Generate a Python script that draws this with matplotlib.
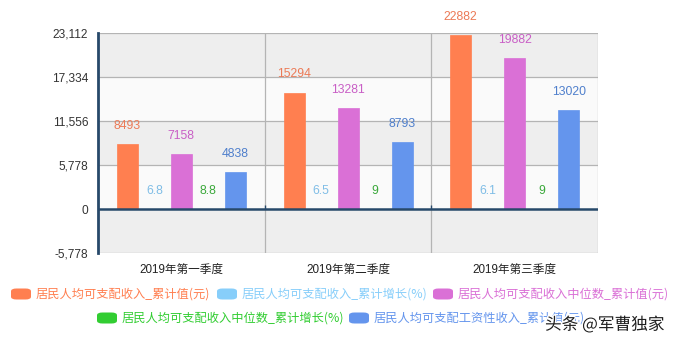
import matplotlib
matplotlib.use("Agg")
import matplotlib.pyplot as plt
import matplotlib.patheffects as pe
from matplotlib.patches import FancyBboxPatch
import numpy as np

plt.rcParams['font.family'] = ['Liberation Sans', 'Noto Sans CJK SC', 'DejaVu Sans']

quarters = ["2019年第一季度", "2019年第二季度", "2019年第三季度"]
series_names = [
    "居民人均可支配收入_累计值(元)",
    "居民人均可支配收入_累计增长(%)",
    "居民人均可支配收入中位数_累计值(元)",
    "居民人均可支配收入中位数_累计增长(%)",
    "居民人均可支配工资性收入_累计值(元)",
]
income_total = [8493, 15294, 22882]
income_growth = [6.8, 6.5, 6.1]
median_total = [7158, 13281, 19882]
median_growth = [8.8, 9, 9]
wage_total = [4838, 8793, 13020]
series_values = [income_total, income_growth, median_total, median_growth, wage_total]
colors = ["#ff7f50", "#87cefa", "#da70d6", "#32cd32", "#6495ed"]
label_colors = ["#ec7a56", "#7fbde6", "#c95fc6", "#3aa83a", "#4f7fcc"]
yticks = [-5778, 0, 5778, 11556, 17334, 23112]

W, H = 679, 343
fig = plt.figure(figsize=(W / 100, H / 100), dpi=100)
ax = fig.add_axes([98 / W, 1 - 253 / H, 500 / W, 220 / H])

ymin, ymax = yticks[0], yticks[-1]
ax.set_xlim(-0.5, len(quarters) - 0.5)
ax.set_ylim(ymin, ymax)

# alternating background bands
band_cols = ["#eeeeee", "#fafafa"]
for i in range(len(yticks) - 1):
    lo, hi = yticks[-2 - i], yticks[-1 - i]
    ax.axhspan(lo, hi, color=band_cols[i % 2], zorder=0, lw=0)

for y in yticks:
    if y != 0:
        ax.axhline(y, color="#b4b4b4", lw=0.9, zorder=1)
for xb in [0.5, 1.5, 2.5]:
    ax.axvline(xb, color="#b4b4b4", lw=0.9, zorder=1)

slot = 0.162
width = 0.126
x = np.arange(len(quarters))
for k, vals in enumerate(series_values):
    pos = x + (k - 2) * slot
    ax.bar(pos, vals, width=width, color=colors[k], zorder=3,
           edgecolor=colors[k], linewidth=0.5)
    for px, v in zip(pos, vals):
        ax.annotate(f"{v:g}", (px, v), xytext=(0, 13), textcoords="offset points",
                    ha="center", va="center", fontsize=8.8, color=label_colors[k],
                    annotation_clip=False, zorder=5)

axis_col = "#27496a"
ax.axhline(0, color=axis_col, lw=1.8, zorder=4)
ax.vlines([0.5, 1.5], 0, 500, color=axis_col, lw=1.0, zorder=4)

for s in ["top", "right", "bottom"]:
    ax.spines[s].set_visible(False)
ax.spines["left"].set_color(axis_col)
ax.spines["left"].set_linewidth(2.0)
ax.spines["left"].set_zorder(5)

ax.set_yticks(yticks)
ax.set_yticklabels([f"{v:,}" for v in yticks], fontsize=8.6, color="#333333")
ax.set_xticks(x)
ax.set_xticklabels(quarters, fontsize=8.4, color="#222222")
ax.tick_params(axis="both", length=0)
ax.tick_params(axis="y", pad=7)
ax.tick_params(axis="x", pad=8)

# legend, two rows
legend_pos = [(11, 294), (217, 294), (433, 294), (97, 318), (349, 318)]
for (lx, ly), name, c in zip(legend_pos, series_names, colors):
    patch = FancyBboxPatch(((lx) / W, 1 - (ly + 5.5) / H), 20 / W, 11 / H,
                           boxstyle="round,pad=0,rounding_size=0.008",
                           transform=fig.transFigure, facecolor=c, edgecolor="none")
    fig.patches.append(patch)
    fig.text((lx + 25) / W, 1 - ly / H, name, fontsize=8.8, color=c,
             va="center", ha="left", family=["Noto Sans CJK SC", "DejaVu Sans"])

fig.text(545 / W, 1 - 325 / H, "头条 @军曹独家", fontsize=12, color="#1e1e1e",
         va="center", ha="left", family=["Noto Sans CJK SC", "DejaVu Sans"],
         path_effects=[pe.withStroke(linewidth=2, foreground="white")])

fig.savefig("out.png", dpi=100, facecolor="white")
